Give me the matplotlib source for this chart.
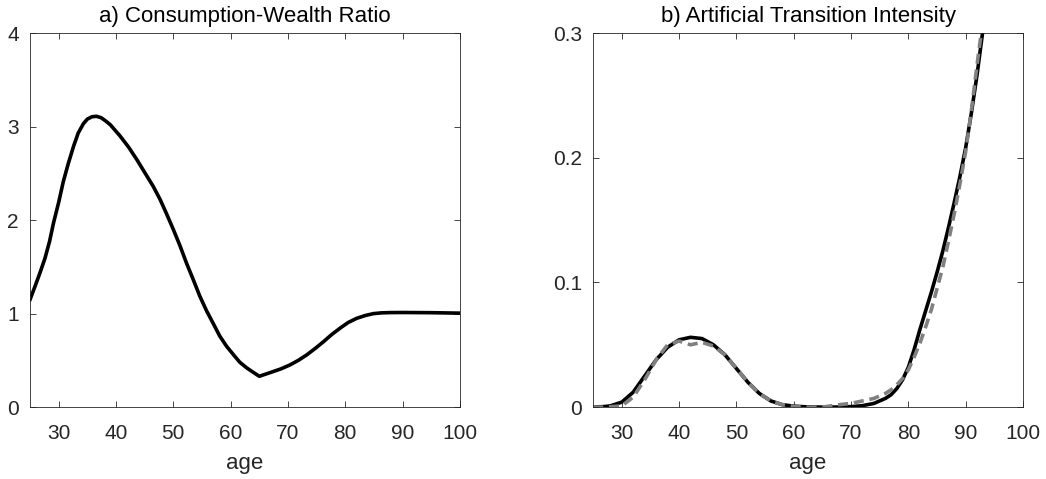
import numpy as np
import matplotlib
matplotlib.use('Agg')
import matplotlib.pyplot as plt

plt.rcParams['font.family'] = ['Liberation Sans', 'DejaVu Sans']

# panel a) consumption-wealth ratio
age_a = [25, 25.8, 26.7, 27.6, 28.4, 29.1, 30, 30.8, 31.7, 32.6, 33.4, 34.3, 35.0, 35.8, 36.6,
         37.4, 38.2, 39.0, 40.7, 42.2, 43.6, 45.0, 46.5, 47.7, 48.8, 50.0, 51.2, 52.3, 53.5,
         54.6, 55.8, 57.0, 58.1, 59.3, 60.5, 61.6, 62.8, 64.0, 65.0, 66.2, 67.4, 68.8, 70.3,
         71.8, 73.3, 74.8, 76.2, 77.6, 79.1, 80.5, 82.0, 83.5, 84.9, 86.3, 87.8, 90, 95, 100]
cw_ratio = [1.15, 1.28, 1.43, 1.59, 1.77, 1.97, 2.19, 2.41, 2.61, 2.79, 2.93, 3.03, 3.08, 3.105,
            3.11, 3.095, 3.06, 3.02, 2.90, 2.78, 2.65, 2.51, 2.36, 2.22, 2.07, 1.90, 1.72, 1.54,
            1.36, 1.19, 1.03, 0.89, 0.76, 0.65, 0.56, 0.48, 0.42, 0.37, 0.33, 0.355, 0.38, 0.41,
            0.45, 0.50, 0.56, 0.63, 0.70, 0.775, 0.845, 0.905, 0.95, 0.98, 1.0, 1.008, 1.011,
            1.012, 1.01, 1.005]

# panel b) artificial transition intensity
age_b = [25, 27, 28, 30, 32, 34, 36, 38, 40, 42, 44, 46, 48, 50, 52, 54, 56, 58, 60, 62, 65,
         68, 70, 72, 74, 76, 77, 78, 79, 80, 81, 82, 83, 84, 85, 86, 87, 88, 89, 90, 91, 92,
         93, 95]
intensity = [0.0, 0.0005, 0.001, 0.004, 0.012, 0.025, 0.038, 0.048, 0.054, 0.056, 0.055, 0.050,
             0.042, 0.031, 0.020, 0.011, 0.005, 0.002, 0.0008, 0.0003, 0.0, 0.0001, 0.0004,
             0.0012, 0.003, 0.007, 0.010, 0.015, 0.022, 0.032, 0.046, 0.062, 0.077, 0.092, 0.108,
             0.125, 0.144, 0.164, 0.185, 0.208, 0.236, 0.267, 0.302, 0.38]
intensity_fit = [0.0, 0.0, 0.0003, 0.001, 0.008, 0.022, 0.038, 0.050, 0.053, 0.050, 0.052, 0.049,
                 0.042, 0.031, 0.020, 0.011, 0.005, 0.002, 0.0006, 0.0, 0.0, 0.002, 0.003,
                 0.005, 0.007, 0.011, 0.014, 0.018, 0.023, 0.030, 0.040, 0.051, 0.064, 0.078,
                 0.095, 0.112, 0.133, 0.155, 0.179, 0.205, 0.238, 0.275, 0.31, 0.40]

fig = plt.figure(figsize=(10.46, 4.79), dpi=100)
ax1 = fig.add_axes([0.0287, 0.150, 0.411, 0.781])
ax2 = fig.add_axes([0.567, 0.150, 0.411, 0.781])

ax1.plot(age_a, cw_ratio, color='black', lw=2.6, solid_joinstyle='round')
ax1.set_xlim(25, 100)
ax1.set_ylim(0, 4)
ax1.set_yticks([0, 1, 2, 3, 4])
ax1.set_title('a) Consumption-Wealth Ratio', fontsize=16, pad=8)

ax2.plot(age_b, intensity, color='black', lw=2.6, solid_joinstyle='round')
ax2.plot(age_b, intensity_fit, color='#808080', lw=2.6, dashes=(2.8, 1.6))
ax2.set_xlim(25, 100)
ax2.set_ylim(0, 0.3)
ax2.set_yticks([0, 0.1, 0.2, 0.3])
ax2.set_yticklabels(['0', '0.1', '0.2', '0.3'])
ax2.set_title('b) Artificial Transition Intensity', fontsize=16, pad=8)

for ax in (ax1, ax2):
    ax.set_xticks([30, 40, 50, 60, 70, 80, 90, 100])
    ax.set_xlabel('age', fontsize=16, color='#262626', labelpad=7)
    ax.tick_params(direction='in', top=True, right=True, labelsize=15,
                   colors='#262626', length=4, width=0.6)
    ax.tick_params(axis='x', pad=12)
    ax.tick_params(axis='y', pad=8)
    for s in ax.spines.values():
        s.set_color('#262626')
        s.set_linewidth(0.6)

fig.savefig('out.png', dpi=100)
